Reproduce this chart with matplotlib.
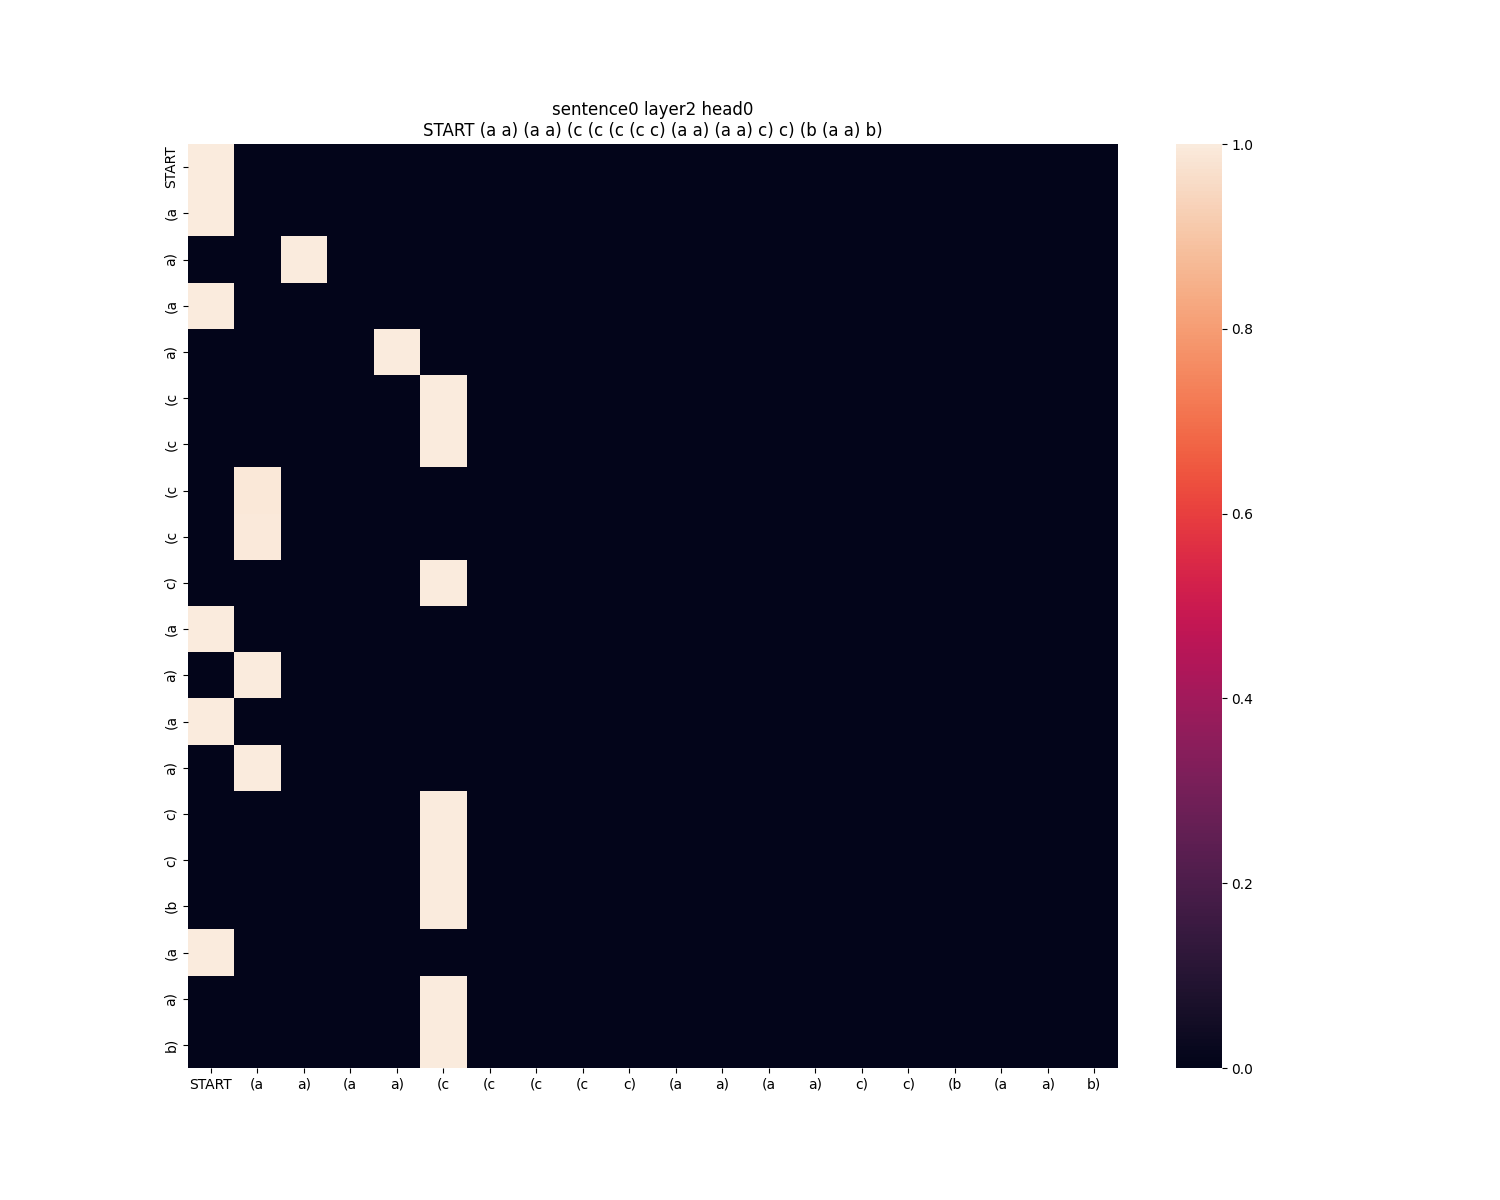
import numpy as np
import matplotlib
matplotlib.use('Agg')
import matplotlib.pyplot as plt
import seaborn as sns

tokens = ['START', '(a', 'a)', '(a', 'a)', '(c', '(c', '(c', '(c', 'c)',
          '(a', 'a)', '(a', 'a)', 'c)', 'c)', '(b', '(a', 'a)', 'b)']
# column each row attends to, and the weight there
attn_col = [0, 0, 2, 0, 4, 5, 5, 1, 1, 5, 0, 1, 0, 1, 5, 5, 5, 0, 5, 5]
attn_val = [1.0, 1.0, 1.0, 1.0, 1.0, 1.0, 1.0, 0.99, 0.995, 1.0,
            1.0, 1.0, 1.0, 1.0, 1.0, 1.0, 1.0, 1.0, 1.0, 1.0]

n = len(tokens)
M = np.zeros((n, n))
for i in range(n):
    M[i, attn_col[i]] = attn_val[i]

fig = plt.figure(figsize=(15, 12))
ax = sns.heatmap(M, xticklabels=tokens, yticklabels=tokens, vmin=0, vmax=1)
ax.set_title('sentence0 layer2 head0\n' + ' '.join(tokens))
plt.savefig('out.png')
